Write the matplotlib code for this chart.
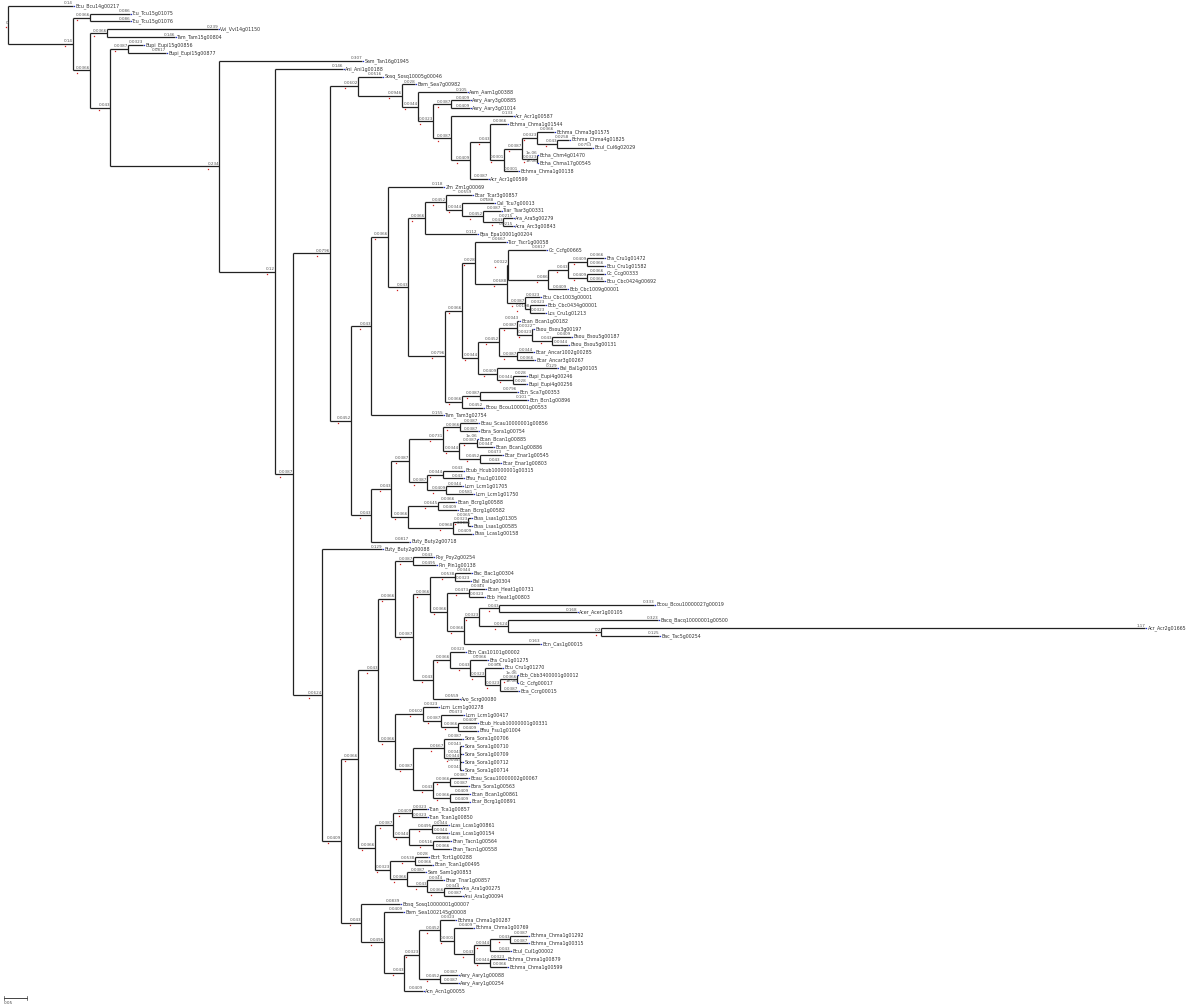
import matplotlib
matplotlib.use('Agg')
import matplotlib.pyplot as plt

# edges of the tree: (node, parent, branch length); siblings keep their order
outgroup_edges = [
    ("Bcu_Bcu14g00217", "root", 0.1398),
    ("n1", "root", 0.1398),
    ("n2", "n1", 0.0366),
    ("Tcu_Tcu15g01075", "n2", 0.0860),
    ("Tcu_Tcu15g01076", "n2", 0.0860),
    ("n3", "n1", 0.0366),
    ("n4", "n3", 0.0366),
    ("Vvi_Vvi14g01150", "n4", 0.2387),
    ("Tam_Tam15g00804", "n4", 0.1462),
    ("n5", "n3", 0.0430),
    ("n6", "n5", 0.0387),
    ("Bupi_Eupi15g00856", "n6", 0.0323),
    ("Bupi_Eupi15g00877", "n6", 0.0817),
    ("n7", "n5", 0.2344),
    ("Sam_Tan16g01945", "n7", 0.3075),
    ("n8", "n7", 0.1204),
    ("Ani_Ani1g00188", "n8", 0.1462),
    ("n9", "n8", 0.0387),
]

clade_a_edges = [
    ("n10", "n9", 0.0796),
    ("n11", "n10", 0.0602),
    ("Sosq_Sosq10005g00046", "n11", 0.0516),
    ("n12", "n11", 0.0946),
    ("Bem_Sea7g00982", "n12", 0.0280),
    ("n13", "n12", 0.0344),
    ("Aam_Aam1g00388", "n13", 0.1054),
    ("n14", "n13", 0.0323),
    ("n15", "n14", 0.0387),
    ("Aary_Aary3g00885", "n15", 0.0409),
    ("Aary_Aary3g01014", "n15", 0.0409),
    ("n16", "n14", 0.0387),
    ("Acr_Acr1g00587", "n16", 0.1333),
    ("n17", "n16", 0.0409),
    ("n18", "n17", 0.0430),
    ("Bchma_Chma1g01544", "n18", 0.0366),
    ("n19", "n18", 0.0301),
    ("n20", "n19", 0.0387),
    ("n21", "n20", 0.0323),
    ("Bchma_Chma3g01575", "n21", 0.0366),
    ("n22", "n21", 0.0430),
    ("Bchma_Chma4g01825", "n22", 0.0258),
    ("Bcul_Cul6g02029", "n22", 0.0753),
    ("n23", "n20", 0.0323),
    ("Bcha_Chm4g01470", "n23", 1e-06),
    ("Bcha_Chma17g00545", "n23", 1e-06),
    ("Bchma_Chma1g00138", "n19", 0.0301),
    ("Acr_Acr1g00599", "n17", 0.0387),
]

clade_b_edges = [
    ("n24", "n10", 0.0452),
    ("n25", "n24", 0.0430),
    ("n26", "n25", 0.0366),
    ("Zm_Zm1g00069", "n26", 0.1183),
    ("n27", "n26", 0.0430),
    ("n28", "n27", 0.0366),
    ("n33", "n28", 0.0452),
    ("Bcar_Tcar3g00857", "n33", 0.0559),
    ("n34", "n33", 0.0344),
    ("Cal_Tcu7g00013", "n34", 0.0688),
    ("n35", "n34", 0.0452),
    ("Tsar_Tsar3g00331", "n35", 0.0387),
    ("n36", "n35", 0.0430),
    ("Ara_Ara5g00279", "n36", 0.0215),
    ("Acra_Arc3g00843", "n36", 0.0215),
    ("Bpa_Epa10001g00204", "n28", 0.1118),
    ("n29", "n27", 0.0796),
    ("n30", "n29", 0.0366),
    ("n31", "n30", 0.0280),
    ("Tscr_Tscr1g00058", "n31", 0.0667),
    ("n32", "n31", 0.0688),
    ("n52", "n32", 0.0022),
    ("Cc_Ccfg00665", "n52", 0.0817),
    ("n41", "n52", 0.0860),
    ("n38", "n41", 0.0430),
    ("n39", "n38", 0.0409),
    ("Bra_Cru1g01472", "n39", 0.0366),
    ("Bcu_Cru1g01582", "n39", 0.0366),
    ("n40", "n38", 0.0409),
    ("Cc_Ccg00333", "n40", 0.0366),
    ("Bcu_Cbc0424g00692", "n40", 0.0366),
    ("Bcb_Cbc1009g00001", "n41", 0.0409),
    ("n53", "n32", 0.0387),
    ("Bcu_Cbc1003g00001", "n53", 0.0323),
    ("n54", "n53", 0.0108),
    ("Bcb_Cbc0434g00001", "n54", 0.0323),
    ("Lcs_Cru1g01213", "n54", 0.0323),
    ("n37", "n30", 0.0344),
    ("n44", "n37", 0.0452),
    ("n45", "n44", 0.0387),
    ("Bcan_Bcan1g00182", "n45", 0.0043),
    ("n46", "n45", 0.0323),
    ("Bsou_Bsou3g00197", "n46", 0.0022),
    ("n47", "n46", 0.0430),
    ("Bsou_Bsou5g00187", "n47", 0.0409),
    ("Bsou_Bsou5g00131", "n47", 0.0344),
    ("n48", "n44", 0.0387),
    ("Bcar_Ancar1002g00285", "n48", 0.0344),
    ("Bcar_Ancar3g00267", "n48", 0.0366),
    ("n49", "n37", 0.0409),
    ("Bal_Bal1g00105", "n49", 0.1290),
    ("n50", "n49", 0.0344),
    ("Bupi_Eupi4g00246", "n50", 0.0280),
    ("Bupi_Eupi4g00256", "n50", 0.0280),
    ("n42", "n29", 0.0366),
    ("n43", "n42", 0.0387),
    ("Bcn_Sca7g00353", "n43", 0.0796),
    ("Bcn_Bcn1g00896", "n43", 0.1011),
    ("Bcou_Bcou100001g00553", "n42", 0.0452),
    ("Tam_Tam3g02754", "n25", 0.1548),
]

clade_c_edges = [
    ("n55", "n24", 0.0430),
    ("n56", "n55", 0.0430),
    ("n57", "n56", 0.0387),
    ("n59", "n57", 0.0731),
    ("n60", "n59", 0.0366),
    ("Bcau_Scau10000001g00856", "n60", 0.0387),
    ("Bora_Sora1g00754", "n60", 0.0387),
    ("n61", "n59", 0.0344),
    ("n62", "n61", 0.0387),
    ("Bcan_Bcan1g00885", "n62", 1e-06),
    ("Bcan_Bcan1g00886", "n62", 0.0344),
    ("n63", "n61", 0.0452),
    ("Bcar_Enar1g00545", "n63", 0.0473),
    ("Bcar_Enar1g00803", "n63", 0.0430),
    ("n64", "n57", 0.0387),
    ("n65", "n64", 0.0344),
    ("Bcub_Hcub10000001g00315", "n65", 0.0430),
    ("Bfsu_Fsu1g01002", "n65", 0.0430),
    ("n66", "n64", 0.0409),
    ("Lcrn_Lcrn1g01705", "n66", 0.0344),
    ("Lcrn_Lcrn1g01750", "n66", 0.0581),
    ("n58", "n56", 0.0366),
    ("n67", "n58", 0.0645),
    ("Bcan_Bcrg1g00588", "n67", 0.0366),
    ("Bcan_Bcrg1g00582", "n67", 0.0409),
    ("n68", "n58", 0.0968),
    ("n69", "n68", 0.0323),
    ("Bsss_Lsas1g01305", "n69", 0.0065),
    ("Bsss_Lsas1g00585", "n69", 0.0065),
    ("Bsss_Lcas1g00158", "n68", 0.0409),
    ("Buty_Buty2g00718", "n55", 0.0817),
]

clade_d_edges = [
    ("n70", "n9", 0.0624),
    ("Buty_Buty2g00088", "n70", 0.1290),
    ("n71", "n70", 0.0409),
    ("n72", "n71", 0.0366),
    ("n73", "n72", 0.0430),
    ("n76", "n73", 0.0366),
    ("n77", "n76", 0.0387),
    ("Poy_Poy2g00254", "n77", 0.0430),
    ("Pin_Pin1g00138", "n77", 0.0495),
    ("n78", "n76", 0.0387),
    ("n79", "n78", 0.0366),
    ("n80", "n79", 0.0538),
    ("Bac_Bac1g00304", "n80", 0.0344),
    ("Bal_Bal1g00304", "n80", 0.0323),
    ("n81", "n79", 0.0366),
    ("n82", "n81", 0.0473),
    ("Bcan_Heat1g00731", "n82", 0.0344),
    ("Bcb_Heat1g00803", "n82", 0.0323),
    ("n83", "n81", 0.0366),
    ("n84", "n83", 0.0323),
    ("n85", "n84", 0.0430),
    ("Bcou_Bcou10000027g00019", "n85", 0.3333),
    ("Acer_Acer1g00105", "n85", 0.1677),
    ("n86", "n84", 0.0624),
    ("Bacq_Bacq10000001g00500", "n86", 0.3226),
    ("n87", "n86", 0.2000),
    ("Acr_Acr2g01665", "n87", 1.17),
    ("Bac_Tac5g00254", "n87", 0.1247),
    ("Bcn_Cas1g00015", "n83", 0.1634),
    ("n88", "n78", 0.0430),
    ("n89", "n88", 0.0366),
    ("Bcn_Cas10101g00002", "n89", 0.0323),
    ("n90", "n89", 0.0430),
    ("Bra_Cru1g01275", "n90", 0.0366),
    ("n91", "n90", 0.0323),
    ("Bcu_Cru1g01270", "n91", 0.0366),
    ("n92", "n91", 0.0323),
    ("n93", "n92", 0.0366),
    ("Bcb_Cbb3400001g00012", "n93", 1e-06),
    ("Cc_Ccfg00017", "n93", 1e-06),
    ("Bca_Ccrg00015", "n92", 0.0387),
    ("Avo_Scrg00080", "n88", 0.0559),
    ("n94", "n73", 0.0366),
    ("n95", "n94", 0.0602),
    ("Lcrn_Lcrn1g00278", "n95", 0.0323),
    ("n96", "n95", 0.0387),
    ("Lcrn_Lcrn1g00417", "n96", 0.0473),
    ("n97", "n96", 0.0366),
    ("Bcub_Hcub10000001g00331", "n97", 0.0409),
    ("Bfsu_Fsu1g01004", "n97", 0.0409),
    ("n98", "n94", 0.0387),
    ("n99", "n98", 0.0667),
    ("Sora_Sora1g00706", "n99", 0.0387),
    ("n100", "n99", 0.0344),
    ("Sora_Sora1g00710", "n100", 0.0043),
    ("Sora_Sora1g00709", "n100", 0.0043),
    ("Sora_Sora1g00712", "n100", 0.0043),
    ("Sora_Sora1g00714", "n100", 0.0043),
    ("n101", "n98", 0.0430),
    ("n102", "n101", 0.0366),
    ("Bcau_Scau10000002g00067", "n102", 0.0387),
    ("Bora_Sora1g00563", "n102", 0.0387),
    ("n103", "n101", 0.0366),
    ("Bcan_Bcan1g00861", "n103", 0.0409),
    ("Bcar_Bcrg1g00891", "n103", 0.0409),
]

clade_e_edges = [
    ("n74", "n72", 0.0366),
    ("n104", "n74", 0.0387),
    ("n105", "n104", 0.0409),
    ("Tcan_Tca1g00857", "n105", 0.0323),
    ("Tcan_Tcan1g00850", "n105", 0.0323),
    ("n106", "n104", 0.0344),
    ("n107", "n106", 0.0495),
    ("Lcas_Lcas1g00861", "n107", 0.0344),
    ("Lcas_Lcas1g00154", "n107", 0.0344),
    ("n108", "n106", 0.0516),
    ("Bran_Tacn1g00564", "n108", 0.0366),
    ("Bran_Tacn1g00558", "n108", 0.0366),
    ("n109", "n74", 0.0323),
    ("n110", "n109", 0.0538),
    ("Bcrt_Tcrt1g00288", "n110", 0.0280),
    ("Bcan_Tcan1g00495", "n110", 0.0366),
    ("n111", "n109", 0.0366),
    ("Sam_Sam1g00853", "n111", 0.0387),
    ("n112", "n111", 0.0430),
    ("Bnar_Tnar1g00857", "n112", 0.0344),
    ("n113", "n112", 0.0366),
    ("Ara_Ara1g00275", "n113", 0.0344),
    ("Arsi_Ara1g00094", "n113", 0.0387),
    ("n75", "n71", 0.0430),
    ("Bosq_Sosq10000001g00007", "n75", 0.0839),
    ("n114", "n75", 0.0495),
    ("Bem_Sea1002145g00008", "n114", 0.0409),
    ("n115", "n114", 0.0430),
    ("n116", "n115", 0.0323),
    ("n117", "n116", 0.0452),
    ("Bchma_Chma1g00287", "n117", 0.0323),
    ("n118", "n117", 0.0301),
    ("Bchma_Chma1g00769", "n118", 0.0409),
    ("n119", "n118", 0.0430),
    ("n120", "n119", 0.0344),
    ("n121", "n120", 0.0430),
    ("Bchma_Chma1g01292", "n121", 0.0387),
    ("Bchma_Chma1g00315", "n121", 0.0387),
    ("Bcul_Cul1g00002", "n120", 0.0430),
    ("n122", "n119", 0.0344),
    ("Bchma_Chma1g00879", "n122", 0.0323),
    ("Bchma_Chma1g00599", "n122", 0.0366),
    ("n123", "n116", 0.0452),
    ("Aary_Aary1g00088", "n123", 0.0387),
    ("Aary_Aary1g00254", "n123", 0.0387),
    ("Acn_Acn1g00055", "n115", 0.0409),
]

scale_bar = 0.05


def main():
    edges = (outgroup_edges + clade_a_edges + clade_b_edges
             + clade_c_edges + clade_d_edges + clade_e_edges)

    children = {}
    length = {}
    for child, par, bl in edges:
        children.setdefault(par, []).append(child)
        length[child] = bl

    # rectangular layout: x = distance from root, leaves one row each
    xpos = {'root': 0.0}
    ypos = {}
    counter = [0]

    def layout(node):
        if node not in children:
            ypos[node] = counter[0]
            counter[0] += 1
            return
        for c in children[node]:
            xpos[c] = xpos[node] + length[c]
            layout(c)
        kids = children[node]
        ypos[node] = (ypos[kids[0]] + ypos[kids[-1]]) / 2.0

    layout('root')

    fig = plt.figure(figsize=(12, 10.08), dpi=100)
    ax = fig.add_axes([0, 0, 1, 1])
    ax.set_xlim(-0.0172, 2.5634)
    ax.set_ylim(127.2, -0.723)
    ax.axis('off')

    line_kw = dict(color='#222222', lw=0.9, solid_capstyle='butt')

    node_labels = []
    for node in list(xpos.keys()):
        x, y = xpos[node], ypos[node]
        if node in children:
            kids = children[node]
            ax.plot([x, x], [ypos[kids[0]], ypos[kids[-1]]], **line_kw)
        if node == 'root':
            t = ax.text(x, y, '0', fontsize=3.0, color='#555555',
                        ha='right', va='bottom')
            node_labels.append((t, y))
            continue
        x0 = xpos[node] - length[node]
        ax.plot([x0, x], [y, y], **line_kw)
        t = ax.text(x, y - 0.08, '%.3g' % length[node], fontsize=3.0,
                    color='#555555', ha='right', va='bottom')
        if node in children:
            node_labels.append((t, y))
        else:
            ax.plot(x + 0.002, y, 's', ms=0.9, color='#1f2fd0', mew=0)
            ax.text(x + 0.005, y, node, fontsize=3.4, color='#333333',
                    ha='left', va='center')

    # red marks at the start of each internal node label
    fig.canvas.draw()
    renderer = fig.canvas.get_renderer()
    inv = ax.transData.inverted()
    for t, y in node_labels:
        bb = t.get_window_extent(renderer)
        xl = inv.transform((bb.x0 + 1, bb.y0))[0]
        ax.plot(xl, y + 0.3, 's', ms=0.9, color='#d02020', mew=0)

    # scale bar
    sx0 = -0.0086
    sy = 125.95
    ax.plot([sx0, sx0 + scale_bar], [sy, sy], color='#444444', lw=0.7)
    ax.plot([sx0, sx0], [sy - 0.25, sy + 0.25], color='#444444', lw=0.5)
    ax.plot([sx0 + scale_bar] * 2, [sy - 0.25, sy + 0.25], color='#444444', lw=0.5)
    ax.text(sx0, sy + 0.35, '%g' % scale_bar, fontsize=3.0, color='#444444',
            ha='left', va='top')

    fig.savefig('out.png', dpi=100)


if __name__ == '__main__':
    main()
